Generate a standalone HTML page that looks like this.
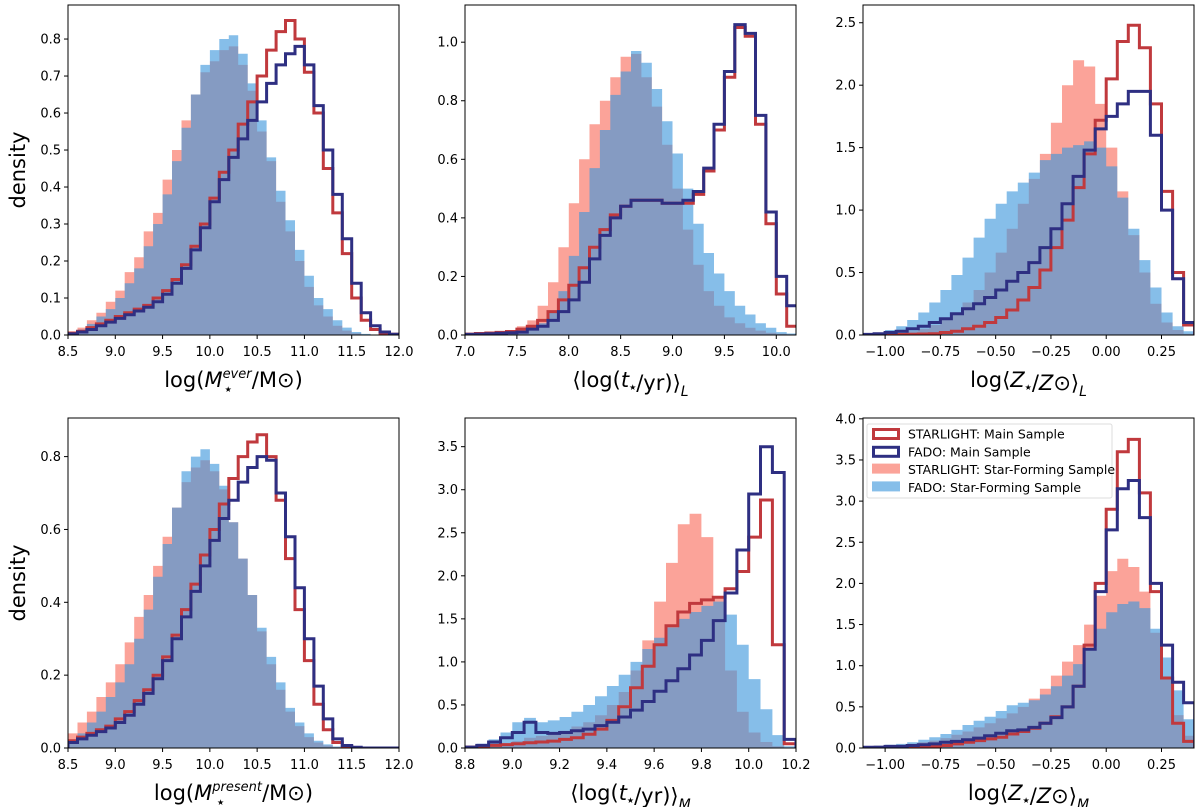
<!DOCTYPE html>
<html><head><meta charset="utf-8"><style>
html,body{margin:0;padding:0;background:#fff}
svg{display:block;font-family:"DejaVu Sans","Liberation Sans",sans-serif}
</style></head><body>
<svg id="fig" width="1200" height="807" viewBox="0 0 1200 807" xmlns="http://www.w3.org/2000/svg"></svg>
<script>
const p1Bins=[8.55,8.65,8.75,8.85,8.95,9.05,9.15,9.25,9.35,9.45,9.55,9.65,9.75,9.85,9.95,10.05,10.15,10.25,10.35,10.45,10.55,10.65,10.75,10.85,10.95,11.05,11.15,11.25,11.35,11.45,11.55,11.65,11.75,11.85,11.95];
const p1SlSF=[0.01,0.02,0.04,0.06,0.09,0.12,0.17,0.21,0.28,0.33,0.42,0.50,0.58,0.65,0.71,0.74,0.77,0.78,0.73,0.66,0.55,0.47,0.36,0.28,0.20,0.13,0.08,0.05,0.025,0.012,0.005,0,0,0,0];
const p1FaSF=[0.005,0.015,0.03,0.05,0.07,0.10,0.14,0.18,0.24,0.30,0.38,0.47,0.56,0.65,0.73,0.77,0.80,0.81,0.76,0.68,0.58,0.48,0.39,0.31,0.23,0.16,0.10,0.07,0.04,0.02,0.008,0.003,0,0,0];
const p1SlM=[0.005,0.01,0.02,0.03,0.04,0.05,0.06,0.07,0.08,0.10,0.12,0.15,0.19,0.24,0.30,0.37,0.44,0.50,0.57,0.63,0.70,0.77,0.82,0.85,0.80,0.71,0.60,0.45,0.33,0.22,0.10,0.04,0.015,0.005,0.002];
const p1FaM=[0.003,0.008,0.015,0.025,0.035,0.045,0.055,0.065,0.075,0.09,0.11,0.14,0.18,0.23,0.29,0.36,0.42,0.48,0.53,0.58,0.63,0.68,0.73,0.76,0.78,0.73,0.62,0.50,0.38,0.26,0.14,0.06,0.025,0.008,0.002];

const p2Bins=[7.05,7.15,7.25,7.35,7.45,7.55,7.65,7.75,7.85,7.95,8.05,8.15,8.25,8.35,8.45,8.55,8.65,8.75,8.85,8.95,9.05,9.15,9.25,9.35,9.45,9.55,9.65,9.75,9.85,9.95,10.05,10.15];
const p2SlSF=[0,0.005,0.005,0.01,0.015,0.03,0.05,0.10,0.18,0.30,0.45,0.60,0.72,0.80,0.88,0.95,0.96,0.88,0.78,0.65,0.50,0.36,0.24,0.15,0.10,0.06,0.04,0.025,0.015,0.008,0.004,0.002];
const p2FaSF=[0,0,0,0.003,0.006,0.01,0.02,0.04,0.08,0.15,0.27,0.42,0.57,0.70,0.82,0.90,0.97,0.93,0.84,0.73,0.62,0.50,0.38,0.28,0.21,0.15,0.10,0.07,0.04,0.025,0.01,0.005];
const p2SlM=[0.003,0.005,0.007,0.009,0.012,0.02,0.03,0.05,0.08,0.12,0.17,0.23,0.30,0.36,0.41,0.44,0.46,0.46,0.46,0.45,0.45,0.45,0.48,0.56,0.70,0.88,1.05,1.02,0.72,0.38,0.14,0.03];
const p2FaM=[0.002,0.003,0.004,0.006,0.008,0.01,0.02,0.03,0.05,0.08,0.12,0.18,0.26,0.34,0.40,0.44,0.46,0.46,0.46,0.45,0.45,0.46,0.49,0.57,0.72,0.90,1.06,1.03,0.75,0.42,0.20,0.10];

const zBins=[-1.075,-1.025,-0.975,-0.925,-0.875,-0.825,-0.775,-0.725,-0.675,-0.625,-0.575,-0.525,-0.475,-0.425,-0.375,-0.325,-0.275,-0.225,-0.175,-0.125,-0.075,-0.025,0.025,0.075,0.125,0.175,0.225,0.275,0.325,0.375];
const p3SlSF=[0,0.005,0.01,0.02,0.03,0.05,0.08,0.12,0.18,0.26,0.36,0.50,0.66,0.85,1.05,1.25,1.45,1.70,2.00,2.20,2.15,1.85,1.50,1.15,0.80,0.50,0.25,0.10,0.04,0.01];
const p3FaSF=[0.01,0.02,0.04,0.07,0.12,0.18,0.26,0.36,0.48,0.62,0.78,0.93,1.05,1.15,1.22,1.30,1.40,1.45,1.50,1.52,1.55,1.50,1.35,1.10,0.85,0.60,0.38,0.18,0.07,0.03];
const p3SlM=[0,0,0.002,0.004,0.006,0.008,0.01,0.02,0.03,0.05,0.07,0.10,0.14,0.20,0.28,0.38,0.52,0.70,0.92,1.18,1.45,1.72,2.05,2.35,2.48,2.30,1.85,1.15,0.50,0.08];
const p3FaM=[0.005,0.01,0.02,0.03,0.05,0.07,0.10,0.13,0.17,0.21,0.25,0.30,0.36,0.43,0.50,0.58,0.70,0.85,1.05,1.27,1.48,1.65,1.75,1.85,1.95,1.95,1.60,1.00,0.45,0.10];

const p4SlSF=[0.04,0.07,0.10,0.14,0.18,0.23,0.29,0.36,0.42,0.50,0.58,0.66,0.73,0.77,0.79,0.76,0.71,0.62,0.52,0.42,0.32,0.23,0.16,0.10,0.06,0.03,0.015,0.007,0.003,0,0,0,0,0,0];
const p4FaSF=[0.02,0.04,0.07,0.10,0.14,0.18,0.23,0.30,0.38,0.47,0.56,0.66,0.76,0.80,0.82,0.78,0.72,0.62,0.52,0.42,0.33,0.25,0.18,0.11,0.07,0.04,0.02,0.01,0.004,0,0,0,0,0,0];
const p4SlM=[0.02,0.03,0.04,0.05,0.06,0.08,0.10,0.13,0.16,0.20,0.25,0.31,0.38,0.45,0.53,0.60,0.67,0.74,0.80,0.84,0.86,0.80,0.68,0.52,0.38,0.24,0.12,0.05,0.015,0.004,0,0,0,0,0];
const p4FaM=[0.015,0.025,0.035,0.045,0.055,0.07,0.09,0.12,0.15,0.19,0.24,0.30,0.36,0.43,0.50,0.57,0.63,0.68,0.73,0.77,0.80,0.79,0.70,0.58,0.44,0.30,0.17,0.08,0.025,0.007,0.002,0,0,0,0];

const p5Bins=[8.825,8.875,8.925,8.975,9.025,9.075,9.125,9.175,9.225,9.275,9.325,9.375,9.425,9.475,9.525,9.575,9.625,9.675,9.725,9.775,9.825,9.875,9.925,9.975,10.025,10.075,10.125,10.175];
const p5SlSF=[0.01,0.02,0.03,0.05,0.08,0.12,0.14,0.17,0.20,0.25,0.30,0.38,0.50,0.65,0.90,1.25,1.70,2.15,2.60,2.72,2.45,1.75,0.90,0.42,0.18,0.07,0.02,0];
const p5FaSF=[0.02,0.05,0.10,0.18,0.30,0.35,0.30,0.32,0.36,0.42,0.50,0.60,0.72,0.85,1.00,1.15,1.28,1.40,1.50,1.58,1.65,1.70,1.55,1.20,0.80,0.45,0.15,0.02];
const p5SlM=[0.01,0.02,0.03,0.04,0.05,0.06,0.07,0.08,0.10,0.12,0.16,0.22,0.32,0.48,0.70,0.95,1.20,1.42,1.58,1.68,1.72,1.75,1.85,2.05,2.45,2.88,1.20,0.05];
const p5FaM=[0.01,0.03,0.07,0.12,0.18,0.30,0.18,0.17,0.18,0.20,0.22,0.26,0.30,0.36,0.44,0.54,0.66,0.78,0.92,1.08,1.25,1.48,1.80,2.30,2.95,3.50,3.20,0.10];

const p6SlSF=[0.01,0.02,0.03,0.04,0.05,0.07,0.09,0.12,0.16,0.20,0.25,0.30,0.36,0.42,0.50,0.60,0.72,0.88,1.05,1.25,1.50,1.85,2.15,2.30,2.20,1.90,1.40,0.85,0.40,0.15];
const p6FaSF=[0.02,0.03,0.04,0.05,0.07,0.10,0.13,0.17,0.22,0.28,0.33,0.38,0.45,0.52,0.55,0.58,0.65,0.75,0.88,1.02,1.20,1.45,1.65,1.75,1.78,1.70,1.45,1.10,0.70,0.35];
const p6SlM=[0.005,0.007,0.01,0.012,0.015,0.018,0.02,0.03,0.05,0.07,0.09,0.11,0.13,0.17,0.20,0.24,0.30,0.38,0.50,0.75,1.25,2.00,2.90,3.60,3.75,3.10,1.90,0.85,0.30,0.08];
const p6FaM=[0.01,0.01,0.02,0.02,0.03,0.04,0.05,0.07,0.08,0.10,0.12,0.15,0.18,0.21,0.22,0.25,0.30,0.37,0.50,0.75,1.20,1.90,2.65,3.15,3.25,2.80,2.00,1.25,0.80,0.55];

const xt1=["8.5","9.0","9.5","10.0","10.5","11.0","11.5","12.0"];
const xt2=["7.0","7.5","8.0","8.5","9.0","9.5","10.0"];
const xtZ=["-1.00","-0.75","-0.50","-0.25","0.00","0.25"];
const xt5=["8.8","9.0","9.2","9.4","9.6","9.8","10.0","10.2"];
const yt1=["0.0","0.1","0.2","0.3","0.4","0.5","0.6","0.7","0.8"];
const yt2=["0.0","0.2","0.4","0.6","0.8","1.0"];
const yt3=["0.0","0.5","1.0","1.5","2.0","2.5"];
const yt4=["0.0","0.2","0.4","0.6","0.8"];
const yt5=["0.0","0.5","1.0","1.5","2.0","2.5","3.0","3.5"];
const yt6=["0.0","0.5","1.0","1.5","2.0","2.5","3.0","3.5","4.0"];

const NS="http://www.w3.org/2000/svg";
const svg=document.getElementById('fig');
function mk(tag,attrs,parent){const e=document.createElementNS(NS,tag);for(const k in attrs)e.setAttribute(k,attrs[k]);(parent||svg).appendChild(e);return e;}
const RED="#c0393d",NAVY="#2e2f82";
const SAL="rgba(250,128,114,0.72)",BLU="rgba(60,150,220,0.62)";
const STAR='<tspan font-size="8" dy="3">\u2605</tspan><tspan dy="-3"></tspan>';

const panels=[
 {name:'panel-mass-ever',x0:68,x1:399,y0:5,y1:335,xmin:8.5,xmax:12,ymax:0.892,bins:p1Bins,bw:0.1,s:[p1SlSF,p1FaSF,p1SlM,p1FaM],xt:xt1,yt:yt1,title:'mever'},
 {name:'panel-age-light',x0:465,x1:796,y0:5,y1:335,xmin:7.0,xmax:10.19,ymax:1.127,bins:p2Bins,bw:0.1,s:[p2SlSF,p2FaSF,p2SlM,p2FaM],xt:xt2,yt:yt2,title:'ageL'},
 {name:'panel-metal-light',x0:863,x1:1194,y0:5,y1:335,xmin:-1.10,xmax:0.397,ymax:2.642,bins:zBins,bw:0.05,s:[p3SlSF,p3FaSF,p3SlM,p3FaM],xt:xtZ,yt:yt3,title:'zL'},
 {name:'panel-mass-present',x0:68,x1:399,y0:418,y1:748,xmin:8.5,xmax:12,ymax:0.906,bins:p1Bins,bw:0.1,s:[p4SlSF,p4FaSF,p4SlM,p4FaM],xt:xt1,yt:yt4,title:'mpres'},
 {name:'panel-age-mass',x0:465,x1:796,y0:418,y1:748,xmin:8.8,xmax:10.2,ymax:3.833,bins:p5Bins,bw:0.05,s:[p5SlSF,p5FaSF,p5SlM,p5FaM],xt:xt5,yt:yt5,title:'ageM'},
 {name:'panel-metal-mass',x0:863,x1:1194,y0:418,y1:748,xmin:-1.10,xmax:0.397,ymax:4.01,bins:zBins,bw:0.05,s:[p6SlSF,p6FaSF,p6SlM,p6FaM],xt:xtZ,yt:yt6,title:'zM'}
];

panels.forEach((p,pi)=>{
  const g=mk('g',{});
  
  
  const X=v=>p.x0+(v-p.xmin)/(p.xmax-p.xmin)*(p.x1-p.x0);
  const Y=v=>p.y1-v/p.ymax*(p.y1-p.y0);
  const cid='clip'+pi;
  const cp=mk('clipPath',{id:cid},g);mk('rect',{x:p.x0,y:p.y0,width:p.x1-p.x0,height:p.y1-p.y0},cp);
  const gc=mk('g',{'clip-path':'url(#'+cid+')'},g);
  function stepPath(vals,closed){
    let d='M'+X(p.bins[0]-p.bw/2).toFixed(1)+','+Y(0).toFixed(1);
    vals.forEach((v,i)=>{const a=X(p.bins[i]-p.bw/2),b=X(p.bins[i]+p.bw/2),y=Y(v);d+=' L'+a.toFixed(1)+','+y.toFixed(1)+' L'+b.toFixed(1)+','+y.toFixed(1);});
    d+=' L'+X(p.bins[vals.length-1]+p.bw/2).toFixed(1)+','+Y(0).toFixed(1);
    if(closed)d+=' Z';return d;
  }
  const f1=mk('path',{d:stepPath(p.s[0],true),fill:SAL,stroke:'none'},gc);
  
  
  const f2=mk('path',{d:stepPath(p.s[1],true),fill:BLU,stroke:'none'},gc);
  
  
  const l1=mk('path',{d:stepPath(p.s[2],false),fill:'none',stroke:RED,'stroke-width':3,'stroke-linejoin':'miter'},gc);
  
  
  const l2=mk('path',{d:stepPath(p.s[3],false),fill:'none',stroke:NAVY,'stroke-width':3,'stroke-linejoin':'miter'},gc);
  
  
  const fr=mk('rect',{x:p.x0,y:p.y0,width:p.x1-p.x0,height:p.y1-p.y0,fill:'none',stroke:'#000','stroke-width':1},g);
  
  
  p.xt.forEach(t=>{const x=X(parseFloat(t));
    mk('line',{x1:x,x2:x,y1:p.y1,y2:p.y1+4,stroke:'#000','stroke-width':1},g);
    const tx=mk('text',{x:x,y:p.y1+21,'font-size':13,'text-anchor':'middle',fill:'#000'},g);
    tx.textContent=t.replace('-','\u2212');
    
    
  });
  p.yt.forEach(t=>{const y=Y(parseFloat(t));
    mk('line',{x1:p.x0-4,x2:p.x0,y1:y,y2:y,stroke:'#000','stroke-width':1},g);
    const tx=mk('text',{x:p.x0-7,y:y+4.5,'font-size':13,'text-anchor':'end',fill:'#000'},g);
    tx.textContent=t;
    
    
  });
  const cx=(p.x0+p.x1)/2, ty=p.y1+52;
  const tt=mk('text',{x:cx,y:ty,'font-size':21,'text-anchor':'middle',fill:'#000'},g);
  
  
  if(p.title==='mever'||p.title==='mpres'){
    const sup=p.title==='mever'?'ever':'present';
    tt.innerHTML='log(<tspan font-style="italic">M</tspan><tspan font-size="13" font-style="italic" dy="-9">'+sup+'</tspan><tspan font-size="8" dx="-'+(p.title==='mever'?27:45)+'" dy="14">\u2605</tspan><tspan dy="-5" dx="'+(p.title==='mever'?20:38)+'">/M\u2299)</tspan>';
  } else if(p.title==='ageL'||p.title==='ageM'){
    tt.innerHTML='\u27e8log(<tspan font-style="italic">t</tspan>'+STAR+'/yr)\u27e9<tspan font-size="14" font-style="italic" dy="6">'+(p.title==='ageL'?'L':'M')+'</tspan>';
  } else {
    tt.innerHTML='log\u27e8<tspan font-style="italic">Z</tspan>'+STAR+'/<tspan font-style="italic">Z</tspan>\u2299\u27e9<tspan font-size="14" font-style="italic" dy="6">'+(p.title==='zL'?'L':'M')+'</tspan>';
  }
});

[170,583].forEach(cy=>{
  const t=mk('text',{x:0,y:0,'font-size':21,'text-anchor':'middle',fill:'#000',transform:'translate(25,'+cy+') rotate(-90)'});
  t.textContent='density';
  
  
});

const lg=mk('g',{});


mk('rect',{x:867,y:424,width:245,height:74,fill:'rgba(255,255,255,0.85)',stroke:'#ddd','stroke-width':1,rx:2},lg);
const entries=[["STARLIGHT: Main Sample",'line',RED],["FADO: Main Sample",'line',NAVY],["STARLIGHT: Star-Forming Sample",'fill',SAL],["FADO: Star-Forming Sample",'fill',BLU]];
entries.forEach((e,i)=>{
  const cy=434+i*17.8;
  const eg=mk('g',{},lg);
  
  
  if(e[1]==='line')mk('rect',{x:873.5,y:cy-4.5,width:25,height:9,fill:'none',stroke:e[2],'stroke-width':3},eg);
  else mk('rect',{x:872,y:cy-6,width:28,height:10,fill:e[2]},eg);
  const t=mk('text',{x:908,y:cy+4.5,'font-size':12.5,fill:'#000'},eg);
  t.textContent=e[0];
});
</script>
</body></html>
